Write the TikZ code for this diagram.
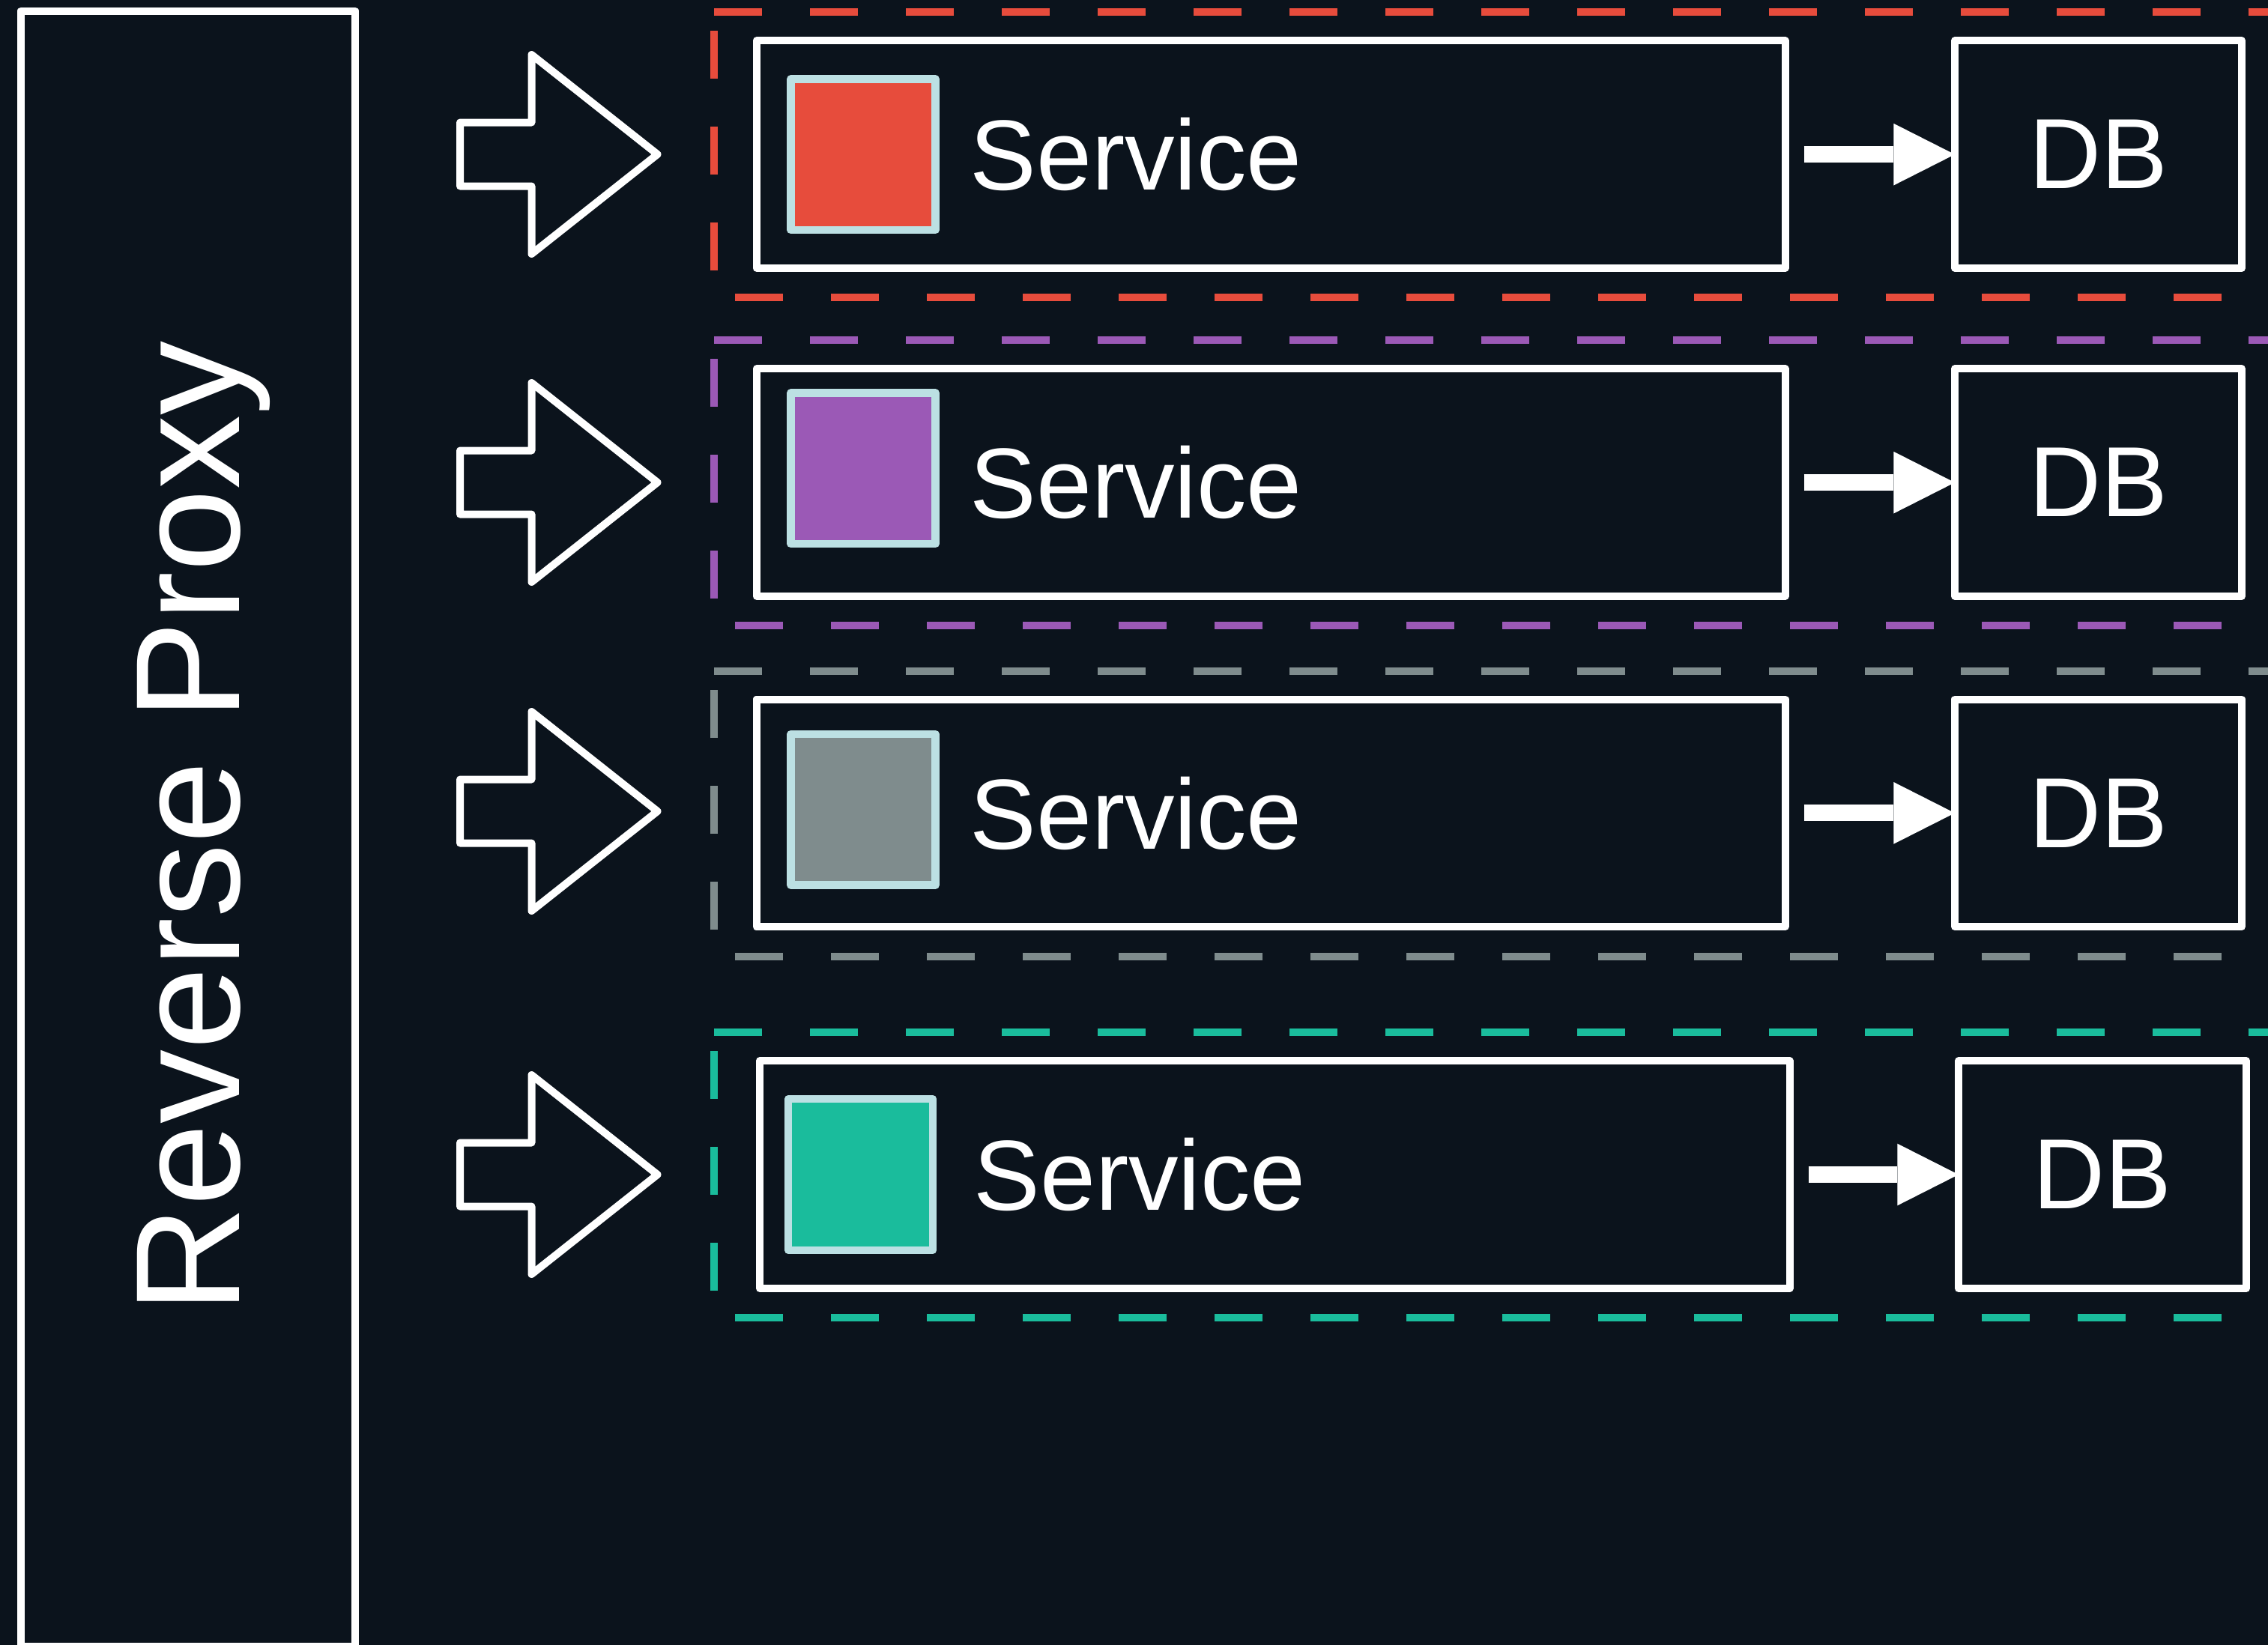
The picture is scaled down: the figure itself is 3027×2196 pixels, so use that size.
\documentclass[tikz,border=0pt]{standalone}
\usepackage{fontspec}
\setmainfont{Liberation Sans}
\usetikzlibrary{arrows.meta}
\definecolor{bg}{HTML}{0B131C}
\definecolor{svcred}{HTML}{E74C3C}
\definecolor{svcpurple}{HTML}{9B59B6}
\definecolor{svcgray}{HTML}{7F8C8D}
\definecolor{svcteal}{HTML}{1ABC9C}
\definecolor{chipedge}{HTML}{BCE0E3}

\begin{document}
\begin{tikzpicture}[x=0.5pt, y=-0.5pt,
  frameline/.style={draw=white, line width=5pt, line join=round, inner sep=0pt, outer sep=0pt},
  svcframe/.style={frameline, minimum width=686.45pt, minimum height=151.85pt},
  dbframe/.style={frameline, minimum width=191.5pt, minimum height=151.85pt,
    text=white, font=\fontsize{66.5pt}{70pt}\selectfont},
  chipsq/.style={draw=chipedge, line width=5.25pt, line join=round, fill=#1,
    inner sep=0pt, outer sep=0pt, minimum width=96.5pt, minimum height=100.85pt},
  svctext/.style={anchor=base west, inner sep=0pt, text=white,
    font=\fontsize{66.5pt}{70pt}\selectfont},
  grpframe/.style={draw=#1, line width=5pt, dash pattern=on 32pt off 32pt},
  dblink/.style={draw=white, line width=11pt, shorten <=12.5pt,
    -{Triangle[length=40.85pt, width=41.35pt, line width=0pt]}},
  inarrow/.pic={
    \draw[white, line width=5pt, line join=round]
      (0,-42.5) -- (95.5,-42.5) -- (95.5,-133) -- (263.5,0)
      -- (95.5,133) -- (95.5,42.5) -- (0,42.5) -- cycle;
  },
]
\useasboundingbox (0,0) rectangle (3027,2196);
\fill[bg] (0,0) rectangle (3027,2196);
\clip (0,0) rectangle (3027,2196);

% reverse proxy column
\node[frameline, minimum width=223pt, minimum height=1091.75pt] (proxy) at (251,1106.25) {};
\node[rotate=90, anchor=base, inner sep=0pt, text=white,
  font=\fontsize{99pt}{101pt}\selectfont] (proxylabel) at (319.3,1104) {Reverse Proxy};

% incoming arrows
\pic at (614,206) {inarrow};
\pic at (614,644) {inarrow};
\pic at (614,1083) {inarrow};
\pic at (614,1568) {inarrow};

% dashed service groups
\draw[grpframe=svcred]    (953,15.7)   -- (3048.5,15.7)   -- (3048.5,396.7)  -- (953,396.7)  -- cycle;
\draw[grpframe=svcpurple] (953,453.7)  -- (3048.5,453.7)  -- (3048.5,834.7)  -- (953,834.7)  -- cycle;
\draw[grpframe=svcgray]   (953,896.3)  -- (3048.5,896.3)  -- (3048.5,1277.3) -- (953,1277.3) -- cycle;
\draw[grpframe=svcteal]   (953,1377.7) -- (3048.5,1377.7) -- (3048.5,1758.7) -- (953,1758.7) -- cycle;

% red group
\node[svcframe] (svcA) at (1696.05,206.15) {};
\node[chipsq=svcred] (chipA) at (1152,206.35) {};
\node[svctext] (lblA) at (1294,253.5) {Service};
\node[dbframe] (dbA) at (2800.5,206.15) {DB};
\draw[dblink] (svcA.east) -- (dbA.west);

% purple group
\node[svcframe] (svcB) at (1696.05,644.15) {};
\node[chipsq=svcpurple] (chipB) at (1152,625.35) {};
\node[svctext] (lblB) at (1294,691.6) {Service};
\node[dbframe] (dbB) at (2800.5,644.15) {DB};
\draw[dblink] (svcB.east) -- (dbB.west);

% gray group
\node[svcframe] (svcC) at (1696.05,1085.35) {};
\node[chipsq=svcgray] (chipC) at (1152,1080.8) {};
\node[svctext] (lblC) at (1294,1133) {Service};
\node[dbframe] (dbC) at (2800.5,1085.35) {DB};
\draw[dblink] (svcC.east) -- (dbC.west);

% teal group
\node[svcframe, minimum width=687.25pt, minimum height=152pt] (svcD) at (1701.25,1568) {};
\node[chipsq=svcteal] (chipD) at (1148.6,1568.05) {};
\node[svctext] (lblD) at (1299,1615.5) {Service};
\node[dbframe, minimum width=192pt, minimum height=152pt] (dbD) at (2806,1568) {DB};
\draw[dblink] (svcD.east) -- (dbD.west);
\end{tikzpicture}
\end{document}
